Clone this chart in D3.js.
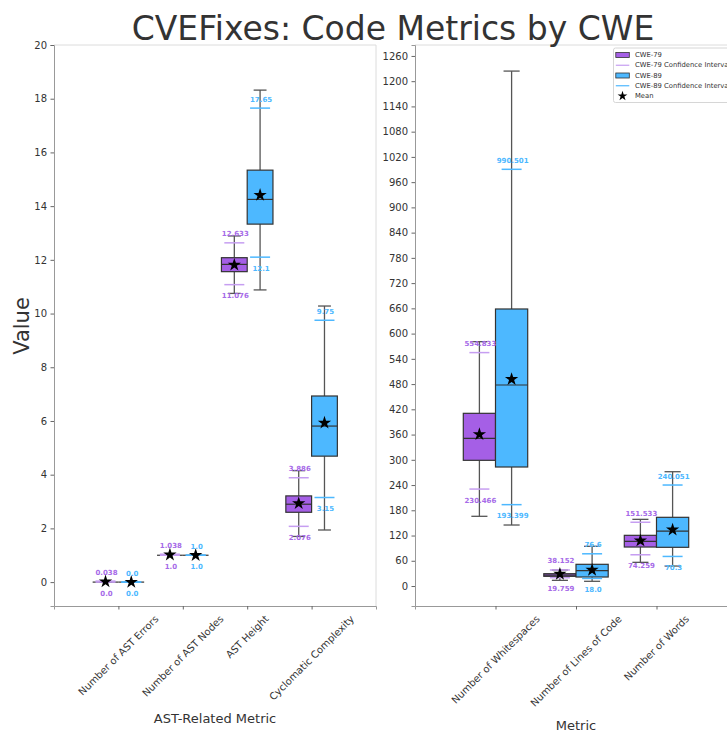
<!DOCTYPE html>
<html><head><meta charset="utf-8">
<script src="https://cdn.jsdelivr.net/npm/d3@7"></script>
<style>body{margin:0;background:#fff;} svg{display:block;font-family:"DejaVu Sans",sans-serif;}</style>
</head><body><svg id="chart" width="727" height="733"></svg>
<script>
// ---------- DATA ----------
const astCategories = ["Number of AST Errors", "Number of AST Nodes", "AST Height", "Cyclomatic Complexity"];
const textCategories = ["Number of Whitespaces", "Number of Lines of Code", "Number of Words"];
const seriesNames = ["CWE-79", "CWE-89"];
const astTicks = [0, 2, 4, 6, 8, 10, 12, 14, 16, 18, 20];
const textTicks = [0, 60, 120, 180, 240, 300, 360, 420, 480, 540, 600, 660, 720, 780, 840, 900, 960, 1020, 1080, 1140, 1200, 1260];

// CWE-79, AST-related metrics
const ast79WhiskerLow  = [0, 1, 10.75, 1.70];
const ast79Q1          = [0, 1, 11.56, 2.60];
const ast79Median      = [0, 1, 11.83, 2.90];
const ast79Q3          = [0, 1, 12.08, 3.21];
const ast79WhiskerHigh = [0, 1, 12.89, 4.15];
const ast79Mean        = [0.019, 1.019, 11.81, 2.93];
const ast79CiLow       = [0.0, 1.0, 11.076, 2.076];
const ast79CiHigh      = [0.038, 1.038, 12.633, 3.886];

// CWE-89, AST-related metrics
const ast89WhiskerLow  = [0, 1, 10.88, 1.94];
const ast89Q1          = [0, 1, 13.33, 4.69];
const ast89Median      = [0, 1, 14.25, 5.81];
const ast89Q3          = [0, 1, 15.34, 6.93];
const ast89WhiskerHigh = [0, 1, 18.32, 10.28];
const ast89Mean        = [0, 1, 14.41, 5.93];
const ast89CiLow       = [0.0, 1.0, 12.1, 3.15];
const ast89CiHigh      = [0.0, 1.0, 17.65, 9.75];

// CWE-79, text metrics
const text79WhiskerLow  = [165.7, 13.5, 56.3];
const text79Q1          = [298.8, 23.0, 92.7];
const text79Median      = [351.0, 26.0, 106.2];
const text79Q3          = [410.5, 29.3, 120.5];
const text79WhiskerHigh = [580.8, 38.0, 158.5];
const text79Mean        = [360.6, 28.5, 107.7];
const text79CiLow       = [230.466, 19.759, 74.259];
const text79CiHigh      = [554.833, 38.152, 151.533];

// CWE-89, text metrics
const text89WhiskerLow  = [145.0, 11.2, 47.5];
const text89Q1          = [282.9, 21.4, 92.0];
const text89Median      = [477.8, 36.4, 130.7];
const text89Q3          = [658.5, 51.6, 163.3];
const text89WhiskerHigh = [1224.0, 94.4, 271.7];
const text89Mean        = [491.4, 38.0, 133.8];
const text89CiLow       = [193.399, 18.0, 70.3];
const text89CiHigh      = [990.501, 76.6, 240.051];

// ---------- STYLE ----------
const PURPLE = "#a55fe6", BLUE = "#4db8ff";
const PURPLE_CI = "#c69ef1", BLUE_CI = "#4db8ff";
const PURPLE_TXT = "#a66ae8", BLUE_TXT = "#4db8ff";
const FONT = "DejaVu Sans";

const svg = d3.select("#chart");

function fmt(v) { return Number.isInteger(v) ? v.toFixed(1) : String(v); }

function makeSeries(lo, q1, med, q3, hi, mean, ciLo, ciHi) {
  return lo.map((_, i) => ({lo: lo[i], q1: q1[i], med: med[i], q3: q3[i], hi: hi[i], mean: mean[i], ciLo: ciLo[i], ciHi: ciHi[i]}));
}

function drawPanel(opt) {
  const {x0, x1, y0, y1, xDomain, yDomain, cats, ticks, s79, s89, xlabel, xlabelY} = opt;
  const x = d3.scaleLinear().domain(xDomain).range([x0, x1]);
  const y = d3.scaleLinear().domain(yDomain).range([y1, y0]);
  const g = svg.append("g");

  // spines
  g.append("line").attr("x1", x0).attr("x2", x1).attr("y1", y0).attr("y2", y0).attr("stroke", "#dcdcdc").attr("stroke-width", 1);
  g.append("line").attr("x1", x1).attr("x2", x1).attr("y1", y0).attr("y2", y1).attr("stroke", "#dcdcdc").attr("stroke-width", 1);

  // y axis
  const ya = g.append("g").attr("transform", `translate(${x0},0)`)
    .call(d3.axisLeft(y).tickValues(ticks).tickSize(3.5).tickPadding(3.5).tickFormat(d3.format("d")));
  ya.select(".domain").attr("stroke", "#999");
  ya.selectAll(".tick line").attr("stroke", "#666");
  ya.selectAll(".tick text").attr("fill", "#333").style("font-size", "10px").style("font-family", FONT);

  // x axis
  const idx = cats.map((_, i) => i);
  const xa = g.append("g").attr("transform", `translate(0,${y1})`)
    .call(d3.axisBottom(x).tickValues(idx).tickSize(3.5).tickFormat(() => ""));
  xa.select(".domain").attr("stroke", "#999");
  xa.selectAll(".tick line").attr("stroke", "#666");

  // rotated labels, bbox centred on tick
  cats.forEach((c, i) => {
    const t = g.append("text").text(c).attr("fill", "#333").style("font-size", "10px").style("font-family", FONT)
      .attr("text-anchor", "middle").attr("dominant-baseline", "central");
    const L = t.node().getComputedTextLength();
    const h = 10 * 1.16;
    const half = (L + h) * Math.SQRT1_2 / 2;
    const cy = y1 + 7 + half;
    t.attr("transform", `translate(${x(i)},${cy}) rotate(-45)`);
  });

  g.append("text").text(xlabel).attr("x", (x0 + x1) / 2).attr("y", xlabelY)
    .attr("text-anchor", "middle").attr("fill", "#333").style("font-size", "13px").style("font-family", FONT);

  const bw = 0.2, cap = 0.1, off = 0.2;
  const series = [
    {data: s79, off: -off, fill: PURPLE, ci: PURPLE_CI, txt: PURPLE_TXT},
    {data: s89, off: off, fill: BLUE, ci: BLUE_CI, txt: BLUE_TXT}
  ];
  series.forEach(s => {
    const sg = g.append("g");
    s.data.forEach((d, i) => {
      const cx = i + s.off;
      sg.append("line").attr("x1", x(cx)).attr("x2", x(cx)).attr("y1", y(d.q3)).attr("y2", y(d.hi)).attr("stroke", "#555").attr("stroke-width", 1.3);
      sg.append("line").attr("x1", x(cx)).attr("x2", x(cx)).attr("y1", y(d.q1)).attr("y2", y(d.lo)).attr("stroke", "#555").attr("stroke-width", 1.3);
      sg.append("line").attr("x1", x(cx - cap)).attr("x2", x(cx + cap)).attr("y1", y(d.hi)).attr("y2", y(d.hi)).attr("stroke", "#555").attr("stroke-width", 1.3);
      sg.append("line").attr("x1", x(cx - cap)).attr("x2", x(cx + cap)).attr("y1", y(d.lo)).attr("y2", y(d.lo)).attr("stroke", "#555").attr("stroke-width", 1.3);
      sg.append("rect").attr("x", x(cx - bw)).attr("width", x(cx + bw) - x(cx - bw))
        .attr("y", y(d.q3)).attr("height", Math.max(0, y(d.q1) - y(d.q3)))
        .attr("fill", s.fill).attr("stroke", "#333").attr("stroke-width", 1.2);
      sg.append("line").attr("x1", x(cx - bw)).attr("x2", x(cx + bw)).attr("y1", y(d.med)).attr("y2", y(d.med)).attr("stroke", "#333").attr("stroke-width", 1.2);
    });
  });
  series.forEach(s => {
    const sg = g.append("g");
    s.data.forEach((d, i) => {
      const px = x(i + s.off);
      [d.ciLo, d.ciHi].forEach(v => {
        sg.append("line").attr("x1", px - 10).attr("x2", px + 10).attr("y1", y(v)).attr("y2", y(v))
          .attr("stroke", s.ci).attr("stroke-width", 1.5);
      });
      sg.append("path").attr("d", d3.symbol(d3.symbolStar, 55)()).attr("transform", `translate(${px},${y(d.mean)})`).attr("fill", "#000");
      sg.append("text").text(fmt(d.ciHi)).attr("x", px + 1).attr("y", y(d.ciHi) - 6.5).attr("text-anchor", "middle")
        .attr("fill", s.txt).style("font-size", "7px").style("font-weight", "bold").style("font-family", FONT);
      sg.append("text").text(fmt(d.ciLo)).attr("x", px + 1).attr("y", y(d.ciLo) + 13.5).attr("text-anchor", "middle")
        .attr("fill", s.txt).style("font-size", "7px").style("font-weight", "bold").style("font-family", FONT);
    });
  });
}

const s79a = makeSeries(ast79WhiskerLow, ast79Q1, ast79Median, ast79Q3, ast79WhiskerHigh, ast79Mean, ast79CiLow, ast79CiHigh);
const s89a = makeSeries(ast89WhiskerLow, ast89Q1, ast89Median, ast89Q3, ast89WhiskerHigh, ast89Mean, ast89CiLow, ast89CiHigh);
const s79t = makeSeries(text79WhiskerLow, text79Q1, text79Median, text79Q3, text79WhiskerHigh, text79Mean, text79CiLow, text79CiHigh);
const s89t = makeSeries(text89WhiskerLow, text89Q1, text89Median, text89Q3, text89WhiskerHigh, text89Mean, text89CiLow, text89CiHigh);

drawPanel({x0: 54, x1: 376, y0: 45, y1: 606, xDomain: [-1, 4], yDomain: [-0.89, 20], cats: astCategories, ticks: astTicks,
  s79: s79a, s89: s89a, xlabel: "AST-Related Metric", xlabelY: 723});
drawPanel({x0: 415, x1: 737, y0: 45, y1: 606, xDomain: [-1, 3], yDomain: [-47.5, 1286], cats: textCategories, ticks: textTicks,
  s79: s79t, s89: s89t, xlabel: "Metric", xlabelY: 730});

svg.append("text").text("Value").attr("transform", "translate(29,326) rotate(-90)").attr("text-anchor", "middle")
  .attr("fill", "#333").style("font-size", "21px").style("font-family", FONT);

svg.append("text").text("CVEFixes: Code Metrics by CWE").attr("x", 393).attr("y", 40).attr("text-anchor", "middle")
  .attr("fill", "#333").style("font-size", "33px").style("font-family", FONT);

// legend
const legendItems = [
  {label: seriesNames[0], type: "patch", color: PURPLE},
  {label: seriesNames[0] + " Confidence Interval", type: "line", color: PURPLE_CI},
  {label: seriesNames[1], type: "patch", color: BLUE},
  {label: seriesNames[1] + " Confidence Interval", type: "line", color: BLUE_CI},
  {label: "Mean", type: "star", color: "#000"}
];
const lg = svg.append("g");
lg.append("rect").attr("x", 613.5).attr("y", 48).attr("width", 120).attr("height", 54.5).attr("rx", 2)
  .attr("fill", "#fff").attr("fill-opacity", 0.8).attr("stroke", "#d6d6d6").attr("stroke-width", 1);
legendItems.forEach((it, i) => {
  const cy = 55 + i * 10.25;
  if (it.type === "patch") {
    lg.append("rect").attr("x", 615.8).attr("y", cy - 2.5).attr("width", 13.5).attr("height", 5)
      .attr("fill", it.color).attr("stroke", "#333").attr("stroke-width", 0.8);
  } else if (it.type === "line") {
    lg.append("line").attr("x1", 615.8).attr("x2", 629.3).attr("y1", cy).attr("y2", cy).attr("stroke", it.color).attr("stroke-width", 1.2);
  } else {
    lg.append("path").attr("d", d3.symbol(d3.symbolStar, 30)()).attr("transform", `translate(622.5,${cy})`).attr("fill", "#000");
  }
  lg.append("text").text(it.label).attr("x", 635).attr("y", cy).attr("dominant-baseline", "central")
    .attr("fill", "#333").style("font-size", "6.8px").style("font-family", FONT);
});
</script></body></html>
